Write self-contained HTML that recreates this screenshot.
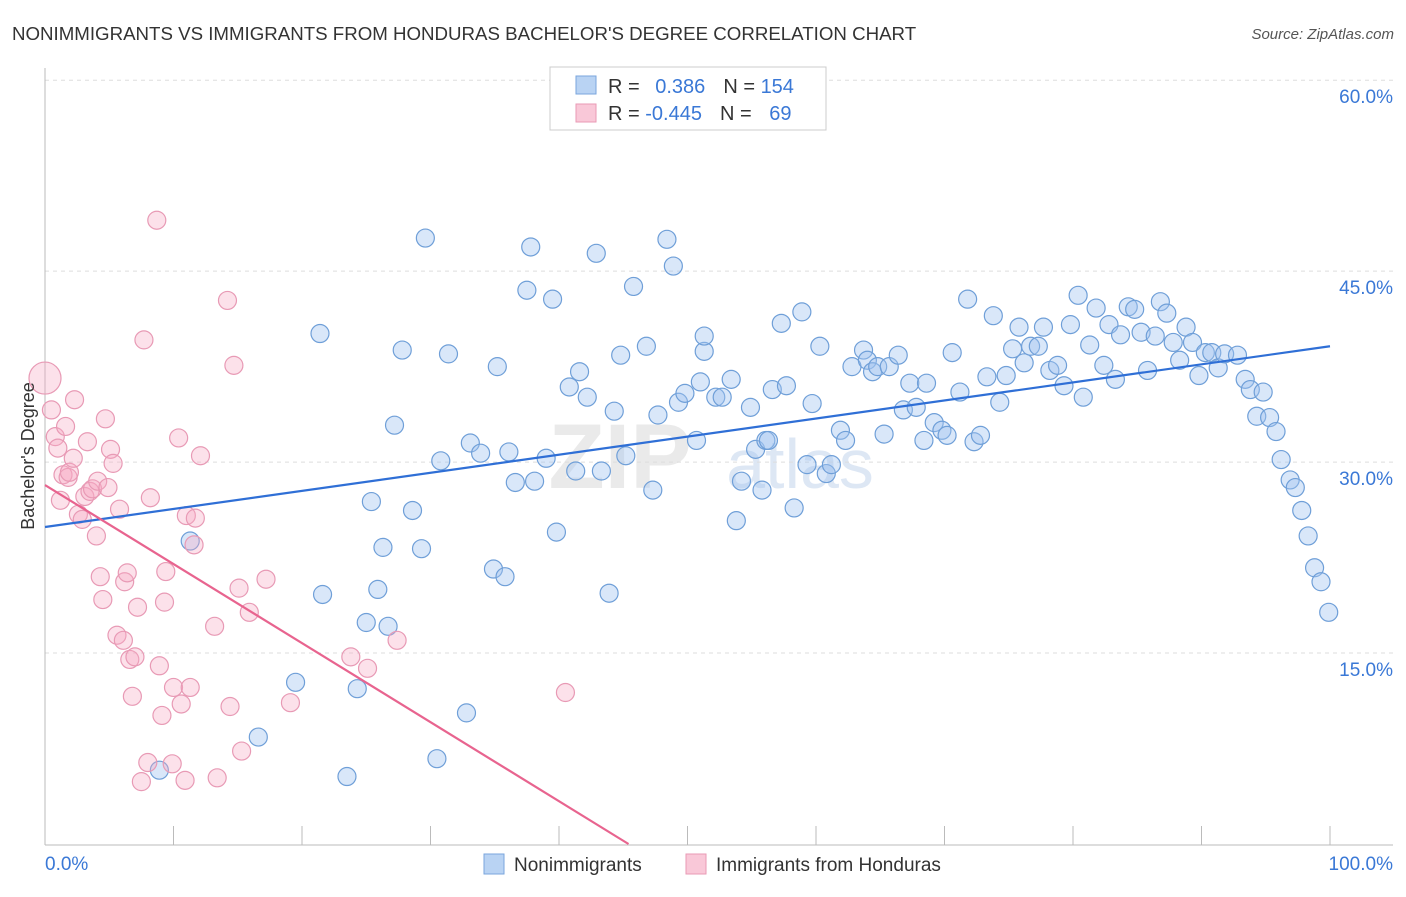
<!DOCTYPE html>
<html><head><meta charset="utf-8">
<style>
body{margin:0;background:#fff;font-family:"Liberation Sans",sans-serif;}
svg text{font-family:"Liberation Sans",sans-serif;}
</style></head>
<body>
<svg id="chart" width="1406" height="892">
<text x="12" y="40" font-size="18.7" fill="#333">NONIMMIGRANTS VS IMMIGRANTS FROM HONDURAS BACHELOR'S DEGREE CORRELATION CHART</text>
<text x="1394" y="39" font-size="15" fill="#555" text-anchor="end" font-style="italic">Source: ZipAtlas.com</text>
<text x="620" y="488" font-size="92" fill="#ddd" opacity="0.6" font-weight="bold" text-anchor="middle">ZIP</text>
<text x="800" y="488" font-size="70" fill="#c8d8ee" opacity="0.6" text-anchor="middle">atlas</text>
<g id="grid"></g>
<g id="axes"></g>
<g id="pts"></g>
<g id="lines"></g>
<text x="34" y="456" font-size="18" fill="#333" text-anchor="middle" transform="rotate(-90 34 456)">Bachelor's Degree</text>
<g>
<rect x="550" y="67" width="276" height="63" fill="#fff" stroke="#ccc"/>
<rect x="576" y="76" width="20" height="18" fill="#b9d3f3" stroke="#7aa6dd"/>
<rect x="576" y="104" width="20" height="18" fill="#f9c8d8" stroke="#e99ab5"/>
<text x="608" y="93" font-size="20" fill="#333">R = <tspan fill="#3a78d6" dx="10">0.386</tspan><tspan fill="#333" dx="18">N = </tspan><tspan fill="#3a78d6">154</tspan></text>
<text x="608" y="120" font-size="20" fill="#333">R = <tspan fill="#3a78d6">-0.445</tspan><tspan fill="#333" dx="18">N = </tspan><tspan fill="#3a78d6" dx="12">69</tspan></text>
</g>
<g>
<rect x="484" y="854" width="20" height="20" fill="#b9d3f3" stroke="#7aa6dd"/>
<text x="514" y="871" font-size="19" fill="#333">Nonimmigrants</text>
<rect x="686" y="854" width="20" height="20" fill="#f9c8d8" stroke="#e99ab5"/>
<text x="716" y="871" font-size="19" fill="#333">Immigrants from Honduras</text>
</g>
<text x="45" y="870" font-size="19" fill="#3a78d6">0.0%</text>
<text x="1393" y="870" font-size="19" fill="#3a78d6" text-anchor="end">100.0%</text>
</svg>
<script>
const yTicks=[15,30,45,60];
const yTickLabels=["15.0%","30.0%","45.0%","60.0%"];
const xTicks=[0,10,20,30,40,50,60,70,80,90,100];
const blueX=[8.9,11.3,16.6,19.5,21.6,21.4,23.5,24.3,25.0,25.4,25.9,26.3,26.7,27.2,27.8,28.6,29.3,29.6,30.5,30.8,31.4,32.8,33.1,33.9,34.9,35.2,35.8,36.1,36.6,37.5,37.8,38.1,39.0,39.5,39.8,40.8,41.3,41.6,42.2,42.9,43.3,43.9,44.3,44.8,45.2,45.8,46.8,47.3,47.7,48.4,48.9,49.3,49.8,50.7,51.0,51.3,51.3,52.2,52.7,53.4,53.8,54.2,54.9,55.3,55.8,56.1,56.3,56.6,57.3,57.7,58.3,58.9,59.3,59.7,60.3,60.8,61.2,61.9,62.3,62.8,63.7,64.0,64.4,64.8,65.3,65.7,66.4,66.8,67.3,67.8,68.4,68.6,69.2,69.8,70.2,70.6,71.2,71.8,72.3,72.8,73.3,73.8,74.3,74.8,75.3,75.8,76.2,76.7,77.3,77.7,78.2,78.8,79.3,79.8,80.4,80.8,81.3,81.8,82.4,82.8,83.3,83.7,84.3,84.8,85.3,85.8,86.4,86.8,87.3,87.8,88.3,88.8,89.3,89.8,90.3,90.8,91.3,91.8,92.8,93.4,93.8,94.3,94.8,95.3,95.8,96.2,96.9,97.3,97.8,98.3,98.8,99.3,99.9,46.1];
const blueY=[5.8,23.8,8.4,12.7,19.6,40.1,5.3,12.2,17.4,26.9,20.0,23.3,17.1,32.9,38.8,26.2,23.2,47.6,6.7,30.1,38.5,10.3,31.5,30.7,21.6,37.5,21.0,30.8,28.4,43.5,46.9,28.5,30.3,42.8,24.5,35.9,29.3,37.1,35.1,46.4,29.3,19.7,34.0,38.4,30.5,43.8,39.1,27.8,33.7,47.5,45.4,34.7,35.4,31.7,36.3,38.7,39.9,35.1,35.1,36.5,25.4,28.5,34.3,31.0,27.8,31.7,31.7,35.7,40.9,36.0,26.4,41.8,29.8,34.6,39.1,29.1,29.8,32.5,31.7,37.5,38.8,38.0,37.1,37.5,32.2,37.5,38.4,34.1,36.2,34.3,31.7,36.2,33.1,32.5,32.1,38.6,35.5,42.8,31.6,32.1,36.7,41.5,34.7,36.8,38.9,40.6,37.8,39.1,39.1,40.6,37.2,37.6,36.0,40.8,43.1,35.1,39.2,42.1,37.6,40.8,36.5,40.0,42.2,42.0,40.2,37.2,39.9,42.6,41.7,39.4,38.0,40.6,39.4,36.8,38.6,38.6,37.4,38.5,38.4,36.5,35.7,33.6,35.5,33.5,32.4,30.2,28.6,28.0,26.2,24.2,21.7,20.6,18.2,59.0];
const pinkX=[0,0.5,0.8,1.0,1.4,1.2,1.6,1.8,1.9,2.2,2.3,2.6,2.9,3.1,3.3,3.5,3.7,4.0,4.1,4.3,4.5,4.7,4.9,5.1,5.3,5.6,5.8,6.1,6.2,6.4,6.6,6.8,7.0,7.2,7.5,7.7,8.0,8.2,8.7,8.9,9.1,9.3,9.4,9.9,10.0,10.4,10.6,10.9,11.0,11.3,11.6,11.7,12.1,13.2,13.4,14.2,14.4,14.7,15.1,15.3,15.9,17.2,19.1,23.8,25.1,27.4,40.5];
const pinkY=[36.6,34.1,32.0,31.1,29.0,27.0,32.8,28.8,29.2,30.3,34.9,25.9,25.5,27.3,31.6,27.7,27.9,24.2,28.5,21.0,19.2,33.4,28.0,31.0,29.9,16.4,26.3,16.0,20.6,21.3,14.5,11.6,14.7,18.6,4.9,39.6,6.4,27.2,49.0,14.0,10.1,19.0,21.4,6.3,12.3,31.9,11.0,5.0,25.8,12.3,23.5,25.6,30.5,17.1,5.2,42.7,10.8,37.6,20.1,7.3,18.2,20.8,11.1,14.7,13.8,16.0,11.9];
const blueTrend=[24.9,39.1];
const pinkTrend=[28.2,-0.621];
const NS='http://www.w3.org/2000/svg';
const sx=v=>45+v*12.85, sy=v=>844-v*12.73;
function mk(tag,attrs,parent){const e=document.createElementNS(NS,tag);for(const k in attrs)e.setAttribute(k,attrs[k]);document.getElementById(parent).appendChild(e);return e;}
yTicks.forEach((t,i)=>{
 const l=mk('line',{x1:45,x2:1393,y1:sy(t),y2:sy(t),stroke:'#ddd','stroke-dasharray':'4,4'},'grid');
 
 
 const tx=mk('text',{x:1393,y:sy(t)+23,'font-size':19,fill:'#3a78d6','text-anchor':'end'},'grid');
 tx.textContent=yTickLabels[i];
 
 
});
const ax=mk('line',{x1:45,x2:1393,y1:845,y2:845,stroke:'#bbb'},'axes');


const ay=mk('line',{x1:45,x2:45,y1:68,y2:845,stroke:'#bbb'},'axes');


xTicks.forEach(t=>{
 const l=mk('line',{x1:sx(t),x2:sx(t),y1:826,y2:845,stroke:'#bbb'},'axes');
 
 
});
blueX.forEach((x,i)=>{
 const c=mk('circle',{cx:sx(x),cy:sy(blueY[i]),r:9,fill:'rgba(160,196,240,0.4)',stroke:'#6f9fd8','stroke-width':1.2},'pts');
 
 
});
pinkX.forEach((x,i)=>{
 const c=mk('circle',{cx:sx(x),cy:sy(pinkY[i]),r:i===0?16:9,fill:'rgba(245,170,195,0.35)',stroke:'#e89ab5','stroke-width':1.2},'pts');
 
 
});
const bl=mk('line',{x1:sx(0),y1:sy(blueTrend[0]),x2:sx(100),y2:sy(blueTrend[1]),stroke:'#2f6fd6','stroke-width':2.2},'lines');


const xEnd=-pinkTrend[0]/pinkTrend[1];
const pl=mk('line',{x1:sx(0),y1:sy(pinkTrend[0]),x2:sx(xEnd),y2:sy(0),stroke:'#e8648f','stroke-width':2.2},'lines');


</script>
</body></html>
